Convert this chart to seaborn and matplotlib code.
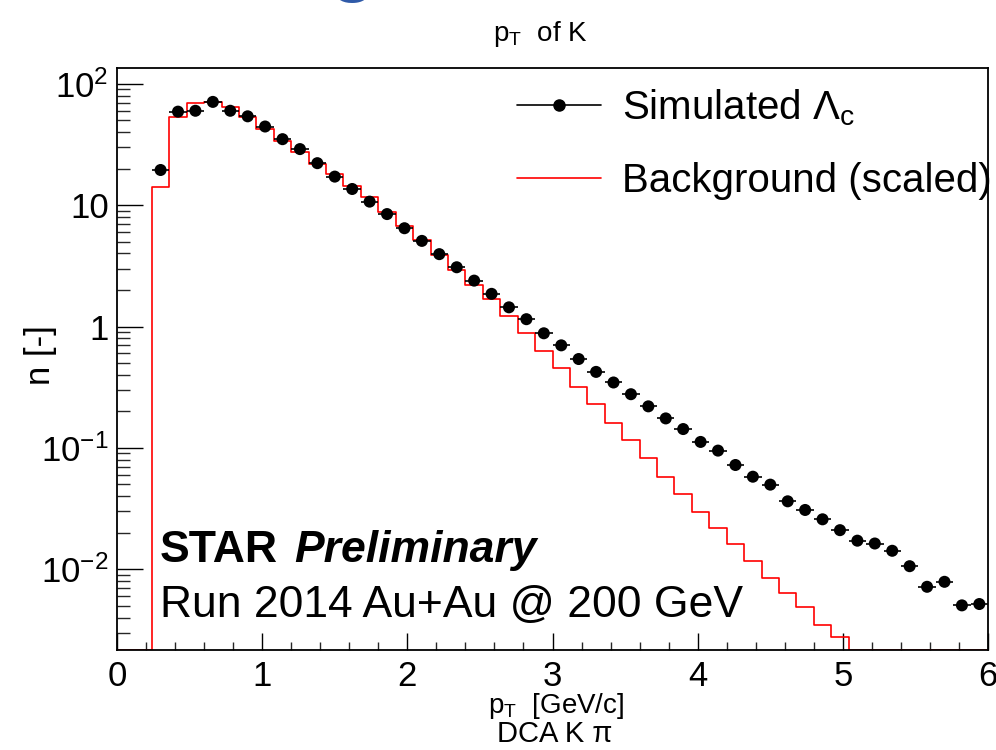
import numpy as np
import matplotlib
matplotlib.use("Agg")
import matplotlib.pyplot as plt
from matplotlib.lines import Line2D
from matplotlib.ticker import FixedLocator, FixedFormatter, MultipleLocator, LogLocator, NullFormatter
import seaborn as sns

# binning of the histograms (50 bins of 0.12 GeV/c from 0 to 6)
BIN_WIDTH = 0.12
N_BINS = 50

# simulated Lambda_c, one value per bin (0 = empty bin, not drawn)
signal = [0, 0,
          19.5, 59.0, 60.0, 71.0, 60.0, 54.0, 44.5, 35.0, 29.0, 22.2,
          17.2, 13.6, 10.7, 8.45, 6.46, 5.08, 3.95, 3.08, 2.39, 1.86,
          1.44, 1.15, 0.88, 0.70, 0.54, 0.423, 0.346, 0.277, 0.220, 0.175,
          0.143, 0.112, 0.095, 0.0723, 0.0579, 0.0498, 0.0363, 0.0308, 0.0258, 0.0210,
          0.0172, 0.0163, 0.0142, 0.0106, 0.00717, 0.00788, 0.00504, 0.00517]

# background (scaled), one value per bin
background = [0, 0,
              14.2, 53.8, 70.1, 71.5, 64.3, 53.8, 42.3, 33.5, 27.2, 21.9,
              18.0, 14.4, 11.6, 8.85, 6.79, 5.14, 3.89, 2.94, 2.21, 1.68,
              1.22, 0.885, 0.632, 0.453, 0.32, 0.228, 0.161, 0.116, 0.082, 0.0579,
              0.0417, 0.0298, 0.0217, 0.0161, 0.0118, 0.0084, 0.0064, 0.0049, 0.00347, 0.00275,
              0, 0, 0, 0, 0, 0, 0, 0]

y_ticks = [0.01, 0.1, 1, 10, 100]
y_tick_labels = [r"$\mathregular{10^{-2}}$", r"$\mathregular{10^{-1}}$", "1", "10", r"$\mathregular{10^{2}}$"]
x_ticks = [0, 1, 2, 3, 4, 5, 6]

Y_MIN, Y_MAX = 0.00216, 135.0

sns.set_theme(style="ticks")
plt.rcParams["font.family"] = ["Liberation Sans", "DejaVu Sans"]
plt.rcParams["text.color"] = "black"
plt.rcParams["axes.labelcolor"] = "black"
plt.rcParams["mathtext.fontset"] = "custom"
plt.rcParams["mathtext.rm"] = "Liberation Sans"
plt.rcParams["mathtext.it"] = "Liberation Sans:italic"
plt.rcParams["mathtext.bf"] = "Liberation Sans:bold"

edges = np.arange(N_BINS + 1) * BIN_WIDTH
centers = edges[:-1] + BIN_WIDTH / 2
sig = np.array(signal, dtype=float)
bkg = np.array(background, dtype=float)

fig = plt.figure(figsize=(9.96, 7.5), dpi=100)
ax = fig.add_axes([0.1175, 0.1333, 0.8745, 0.776])
ax.set_yscale("log")

# background histogram as a step line, empty bins sit on the frame bottom
bkg_steps = np.clip(np.append(bkg, bkg[-1]), Y_MIN, None)
sns.lineplot(x=edges, y=bkg_steps, drawstyle="steps-post", color="red",
             linewidth=1.2, sort=False, ax=ax, zorder=2)

# simulated points with bin-width error bars
mask = sig > 0
ax.errorbar(centers[mask], sig[mask], xerr=BIN_WIDTH / 2, fmt="none",
            ecolor="black", elinewidth=1.2, capsize=0, zorder=3)
sns.scatterplot(x=centers[mask], y=sig[mask], color="black", s=75,
                edgecolor="none", ax=ax, zorder=4)

ax.set_xlim(0, 6)
ax.set_ylim(Y_MIN, Y_MAX)
ax.set_xlabel("")
ax.set_ylabel("")

ax.xaxis.set_major_locator(FixedLocator(x_ticks))
ax.xaxis.set_minor_locator(MultipleLocator(0.2))
ax.yaxis.set_major_locator(FixedLocator(y_ticks))
ax.yaxis.set_major_formatter(FixedFormatter(y_tick_labels))
ax.yaxis.set_minor_locator(LogLocator(base=10, subs=np.arange(2, 10)))
ax.yaxis.set_minor_formatter(NullFormatter())

ax.tick_params(axis="x", which="major", direction="in", length=12, width=1.0,
               labelsize=25, pad=7, colors="black")
ax.tick_params(axis="x", which="minor", direction="in", length=6, width=1.0)
ax.tick_params(axis="y", which="major", direction="in", length=19, width=1.0,
               labelsize=25, pad=6, colors="black")
ax.tick_params(axis="y", which="minor", direction="in", length=9.5, width=1.0)
for sp in ax.spines.values():
    sp.set_visible(True)
    sp.set_linewidth(1.3)
    sp.set_color("black")

handles = [Line2D([], [], color="black", marker="o", markersize=8, linewidth=1.2),
           Line2D([], [], color="red", linewidth=1.2)]
labels = [r"Simulated $\mathregular{\Lambda_{c}}$", "Background (scaled)"]
ax.legend(handles, labels, loc="upper left", bbox_to_anchor=(0.459, 0.967),
          frameon=False, fontsize=29, handlelength=2.1, handletextpad=0.5,
          labelspacing=0.85, borderpad=0, borderaxespad=0)

ax.text(0.049, 0.151, "STAR", transform=ax.transAxes, fontsize=32,
        fontweight="bold", ha="left", va="baseline")
ax.text(0.204, 0.151, "Preliminary", transform=ax.transAxes, fontsize=32,
        fontweight="bold", fontstyle="italic", ha="left", va="baseline")
ax.text(0.049, 0.057, "Run 2014 Au+Au @ 200 GeV", transform=ax.transAxes,
        fontsize=32, ha="left", va="baseline")

fig.text(0.543, 0.955, r"$\mathregular{p_{T}}$  of K", fontsize=20, ha="center", va="center")
fig.text(0.558, 0.059, r"$\mathregular{p_{T}}$  [GeV/c]", fontsize=20, ha="center", va="center")
fig.text(0.557, 0.021, "DCA K π", fontsize=21, ha="center", va="center")
fig.text(0.041, 0.527, "n [-]", fontsize=25, rotation=90, ha="center", va="center")

# piece of the slide title peeking in at the top
fig.text(0.3534, 1.02, "g", fontsize=62, color="#2f5aa8", ha="center", va="baseline")

fig.savefig("out.png", dpi=100)
